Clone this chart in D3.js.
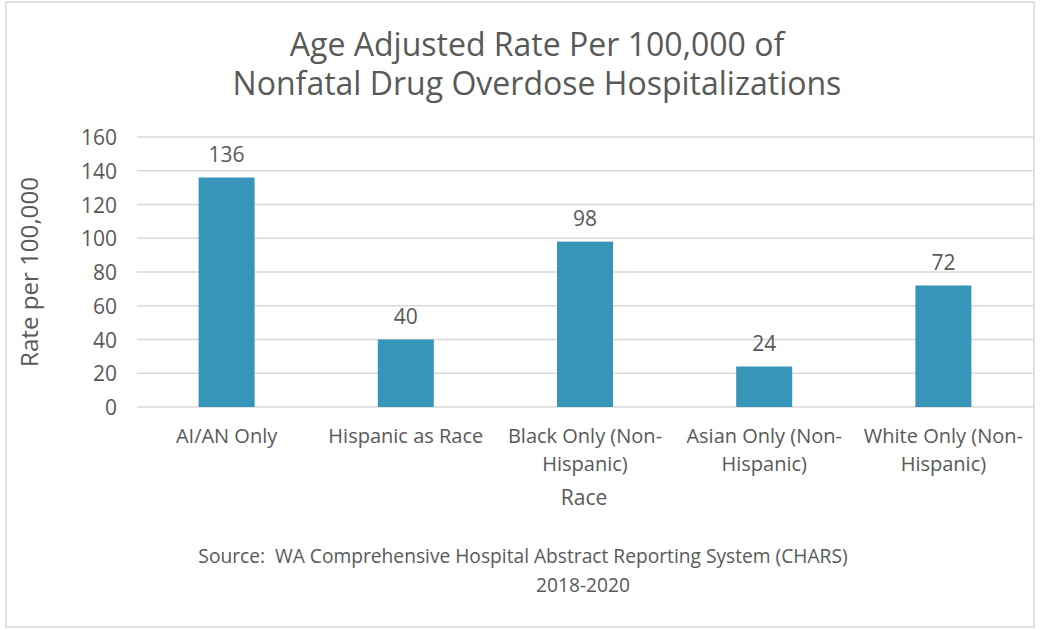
<!DOCTYPE html>
<html>
<head>
<meta charset="utf-8">
<script src="https://cdn.jsdelivr.net/npm/d3@7"></script>
<style>
  body { margin: 0; background: #fff; }
  text { font-family: "Open Sans", sans-serif; fill: #595959; white-space: pre; }
</style>
</head>
<body>
<div id="chart"></div>
<script>
// data
const categories = [
    ['AI/AN Only'],
    ['Hispanic as Race'],
    ['Black Only (Non-', 'Hispanic)'],
    ['Asian Only (Non-', 'Hispanic)'],
    ['White Only (Non-', 'Hispanic)']
]
const rates = [136, 40, 98, 24, 72]
const yTicks = [0, 20, 40, 60, 80, 100, 120, 140, 160]
const titleLines = ['Age Adjusted Rate Per 100,000 of', 'Nonfatal Drug Overdose Hospitalizations']
const sourceLines = ['Source:  WA Comprehensive Hospital Abstract Reporting System (CHARS)', '2018-2020']

const width = 1050, height = 630
const margin = { top: 137, right: 17, bottom: 223, left: 137 }

let svg = d3.select('#chart')
    .append('svg')
    .attr('width', width)
    .attr('height', height)

// outer chart border
svg.append('rect')
    .attr('x', 6).attr('y', 2)
    .attr('width', 1028).attr('height', 625)
    .attr('fill', 'none')
    .attr('stroke', '#d9d9d9')
    .attr('stroke-width', 1.5)

let x = d3.scaleBand()
    .domain(d3.range(categories.length))
    .range([margin.left, width - margin.right])
    .paddingInner(0.6875)
    .paddingOuter(0.6875 / 2)

let y = d3.scaleLinear()
    .domain([0, 160])
    .range([height - margin.bottom, margin.top])

// pick the font size that makes one reference line span its width
// (Century Gothic is not installed), then use it for the whole block
function fitBlock(sel, refIndex, w) {
    let node = sel.nodes()[refIndex]
    let fs = parseFloat(node.getAttribute('font-size'))
    let size = (fs * w / node.getComputedTextLength()).toFixed(2)
    sel.attr('font-size', size)
}

// gridlines
svg.append('g')
    .selectAll('line')
    .data(yTicks)
    .join('line')
    .attr('x1', margin.left)
    .attr('x2', width - margin.right)
    .attr('y1', d => y(d))
    .attr('y2', d => y(d))
    .attr('stroke', '#d9d9d9')
    .attr('stroke-width', 1.5)

// y axis tick labels
let yAxis = svg.append('g')
    .attr('transform', `translate(${margin.left - 20},0)`)
    .call(d3.axisLeft(y).tickValues(yTicks).tickSize(0).tickPadding(0))
yAxis.select('.domain').remove()
yAxis.selectAll('text')
    .attr('font-size', 21)
    .attr('font-family', null)
    .attr('fill', '#595959')
    .attr('dy', '0.36em')

// bars
svg.append('g')
    .selectAll('rect')
    .data(rates)
    .join('rect')
    .attr('x', (d, i) => x(i))
    .attr('y', d => y(d))
    .attr('width', x.bandwidth())
    .attr('height', d => y(0) - y(d))
    .attr('fill', '#3795ba')

// value labels
svg.append('g')
    .selectAll('text')
    .data(rates)
    .join('text')
    .attr('x', (d, i) => x(i) + x.bandwidth() / 2)
    .attr('y', d => y(d) - 16)
    .attr('text-anchor', 'middle')
    .attr('font-size', 21)
    .text(d => d)

// category labels (wrapped like the original)
svg.append('g')
    .selectAll('text')
    .data(categories)
    .join('text')
    .attr('x', (d, i) => x(i) + x.bandwidth() / 2)
    .attr('y', 443)
    .attr('text-anchor', 'middle')
    .attr('font-size', 20)
    .selectAll('tspan')
    .data(d => d)
    .join('tspan')
    .attr('x', function () { return this.parentNode.getAttribute('x') })
    .attr('dy', (d, i) => i === 0 ? 0 : 28)
    .text(d => d)

// axis titles
svg.append('text')
    .attr('x', 584).attr('y', 505)
    .attr('text-anchor', 'middle')
    .attr('font-size', 21)
    .text('Race')

svg.append('text')
    .attr('transform', 'translate(38,272) rotate(-90)')
    .attr('text-anchor', 'middle')
    .attr('font-size', 21)
    .text('Rate per 100,000')
    .call(fitBlock, 0, 190)

// title
svg.append('g')
    .selectAll('text')
    .data(titleLines)
    .join('text')
    .attr('x', 537)
    .attr('y', (d, i) => 56 + i * 39)
    .attr('text-anchor', 'middle')
    .attr('font-size', 28)
    .text(d => d)
    .call(fitBlock, 1, 609)

// source note
svg.append('g')
    .selectAll('text')
    .data(sourceLines)
    .join('text')
    .attr('x', (d, i) => [523, 583][i])
    .attr('y', (d, i) => 563 + i * 29)
    .attr('text-anchor', 'middle')
    .attr('font-size', 20)
    .text(d => d)
    .call(fitBlock, 0, 650)
</script>
</body>
</html>
